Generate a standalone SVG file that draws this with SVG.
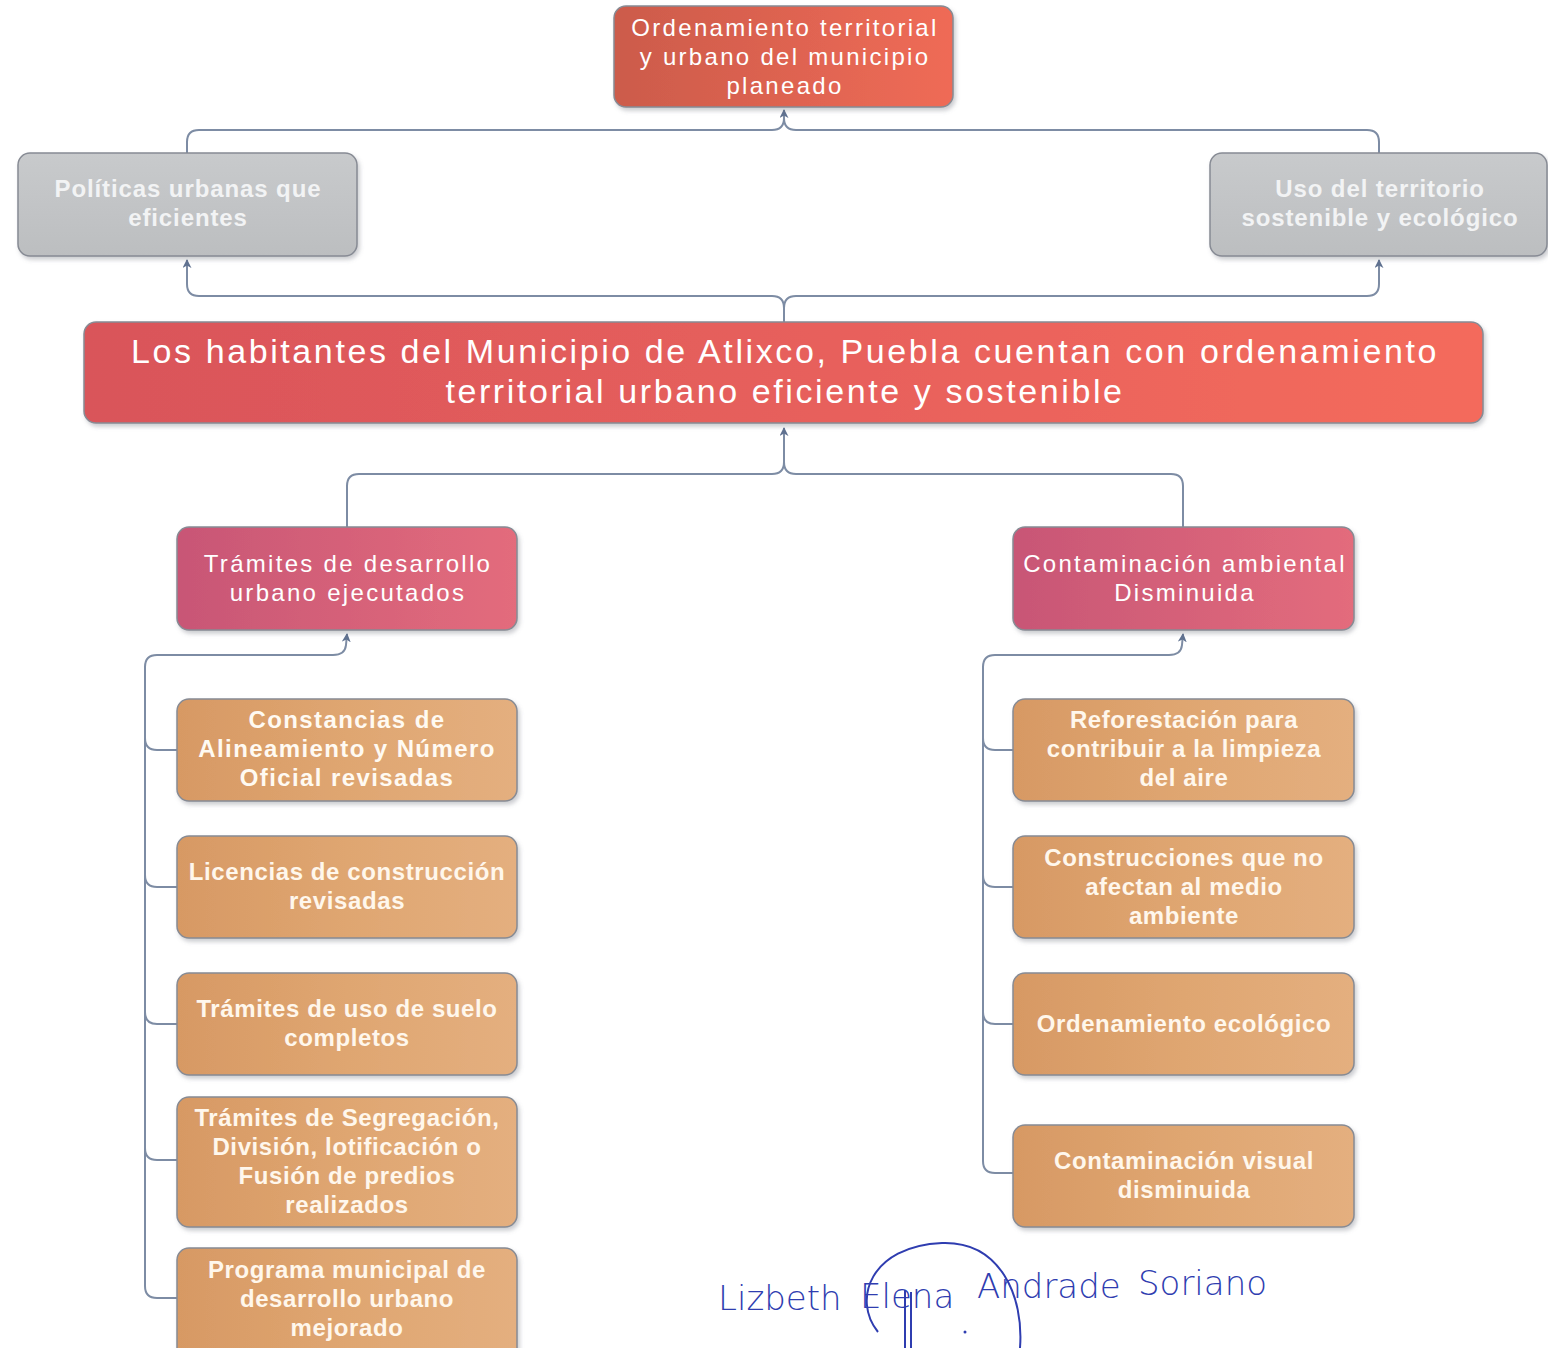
<svg xmlns="http://www.w3.org/2000/svg" width="1548" height="1348" viewBox="0 0 1548 1348">
<defs>
<linearGradient id="gTop" x1="0" y1="0" x2="1" y2="0"><stop offset="0" stop-color="#cc5b4b"/><stop offset="1" stop-color="#ef6b56"/></linearGradient>
<linearGradient id="gMain" x1="0" y1="0" x2="1" y2="0"><stop offset="0" stop-color="#d9545a"/><stop offset="1" stop-color="#f46b5c"/></linearGradient>
<linearGradient id="gPink" x1="0" y1="0" x2="1" y2="0"><stop offset="0" stop-color="#c85676"/><stop offset="1" stop-color="#e36c7c"/></linearGradient>
<linearGradient id="gGrey" x1="0" y1="0" x2="0" y2="1"><stop offset="0" stop-color="#c8cacc"/><stop offset="1" stop-color="#bcbec0"/></linearGradient>
<linearGradient id="gOrange" x1="0" y1="0" x2="1" y2="0"><stop offset="0" stop-color="#d79964"/><stop offset="0.5" stop-color="#dfa671"/><stop offset="1" stop-color="#e4af7f"/></linearGradient>
<filter id="sh" x="-5%" y="-10%" width="110%" height="130%"><feDropShadow dx="2" dy="3" stdDeviation="2" flood-color="#6b6f78" flood-opacity="0.35"/></filter>
<marker id="arr" viewBox="0 0 10 10" refX="9" refY="5" markerWidth="9" markerHeight="9" orient="auto" markerUnits="userSpaceOnUse"><path d="M0,0 L10,5 L0,10 L3,5 Z" fill="#5f7190"/></marker>
<style>
.box{stroke:#878b94;stroke-width:1.5;filter:url(#sh)}
.t{font-family:"Liberation Sans",Arial,sans-serif;fill:#ffffff;text-anchor:middle;font-size:24px;letter-spacing:2.3px}
.tb{font-family:"Liberation Sans",Arial,sans-serif;fill:#fff7ec;text-anchor:middle;font-size:24px;font-weight:bold;letter-spacing:0.6px}
.tc{font-family:"Liberation Sans",Arial,sans-serif;fill:#fffaf2;text-anchor:middle;font-size:24px;font-weight:bold;letter-spacing:1.4px}
.tg{font-family:"Liberation Sans",Arial,sans-serif;fill:#f2f3f4;text-anchor:middle;font-size:24px;font-weight:bold;letter-spacing:0.9px}
.tm{font-family:"Liberation Sans",Arial,sans-serif;fill:#ffffff;text-anchor:middle;font-size:34px;letter-spacing:2.6px}
.c{fill:none;stroke:#7d8ca4;stroke-width:2}
.sig{font-family:"DejaVu Sans","Liberation Sans",sans-serif;fill:#2f3db0;font-size:34px;font-weight:200}
</style>
</defs>
<rect width="1548" height="1348" fill="#ffffff"/>

<g id="connectors">
<path class="c" d="M187,153 V142 Q187,130 199,130 H772 Q784,130 784,118 V110" marker-end="url(#arr)"/>
<path class="c" d="M1379,153 V142 Q1379,130 1367,130 H796 Q784,130 784,118"/>
<path class="c" d="M784,322 V308 Q784,296 772,296 H199 Q187,296 187,284 V260" marker-end="url(#arr)"/>
<path class="c" d="M784,308 Q784,296 796,296 H1367 Q1379,296 1379,284 V260" marker-end="url(#arr)"/>
<path class="c" d="M347,527 V486 Q347,474 359,474 H772 Q784,474 784,462 V428" marker-end="url(#arr)"/>
<path class="c" d="M1183,527 V486 Q1183,474 1171,474 H796 Q784,474 784,462"/>
<path class="c" d="M145,1286 V667 Q145,655 157,655 H333 Q345,655 346,645 L347,634" marker-end="url(#arr)"/>
<path class="c" d="M145,1286 Q145,1298 157,1298 H177"/>
<path class="c" d="M145,738 Q145,750 157,750 H177"/>
<path class="c" d="M145,875 Q145,887 157,887 H177"/>
<path class="c" d="M145,1012 Q145,1024 157,1024 H177"/>
<path class="c" d="M145,1148 Q145,1160 157,1160 H177"/>
<path class="c" d="M983,1161 V667 Q983,655 995,655 H1169 Q1181,655 1182,645 L1183,634" marker-end="url(#arr)"/>
<path class="c" d="M983,1161 Q983,1173 995,1173 H1013"/>
<path class="c" d="M983,738 Q983,750 995,750 H1013"/>
<path class="c" d="M983,875 Q983,887 995,887 H1013"/>
<path class="c" d="M983,1012 Q983,1024 995,1024 H1013"/>
</g>

<g id="n-top">
<rect class="box" x="614" y="6" width="339" height="101" rx="12" fill="url(#gTop)"/>
<text class="t"><tspan x="785" y="36">Ordenamiento territorial</tspan><tspan x="785" y="65">y urbano del municipio</tspan><tspan x="785" y="94">planeado</tspan></text>
</g>

<g id="n-politicas">
<rect class="box" x="18" y="153" width="339" height="103" rx="12" fill="url(#gGrey)"/>
<text class="tg"><tspan x="188" y="197">Políticas urbanas que</tspan><tspan x="188" y="226">eficientes</tspan></text>
</g>

<g id="n-uso">
<rect class="box" x="1210" y="153" width="337" height="103" rx="12" fill="url(#gGrey)"/>
<text class="tg"><tspan x="1380" y="197">Uso del territorio</tspan><tspan x="1380" y="226">sostenible y  ecológico</tspan></text>
</g>

<g id="n-main">
<rect class="box" x="84" y="322" width="1399" height="101" rx="12" fill="url(#gMain)"/>
<text class="tm"><tspan x="785" y="363">Los habitantes del Municipio de Atlixco, Puebla cuentan con ordenamiento</tspan><tspan x="785" y="403">territorial urbano eficiente y sostenible</tspan></text>
</g>

<g id="n-tramites">
<rect class="box" x="177" y="527" width="340" height="103" rx="12" fill="url(#gPink)"/>
<text class="t"><tspan x="348" y="572">Trámites de desarrollo</tspan><tspan x="348" y="601">urbano ejecutados</tspan></text>
</g>

<g id="n-contaminacion">
<rect class="box" x="1013" y="527" width="341" height="103" rx="12" fill="url(#gPink)"/>
<text class="t"><tspan x="1185" y="572">Contaminación ambiental</tspan><tspan x="1185" y="601">Disminuida</tspan></text>
</g>

<g id="n-constancias">
<rect class="box" x="177" y="699" width="340" height="102" rx="12" fill="url(#gOrange)"/>
<text class="tc"><tspan x="347" y="728">Constancias de</tspan><tspan x="347" y="757">Alineamiento y Número</tspan><tspan x="347" y="786">Oficial revisadas</tspan></text>
</g>

<g id="n-licencias">
<rect class="box" x="177" y="836" width="340" height="102" rx="12" fill="url(#gOrange)"/>
<text class="tb"><tspan x="347" y="880">Licencias de construcción</tspan><tspan x="347" y="909">revisadas</tspan></text>
</g>

<g id="n-usosuelo">
<rect class="box" x="177" y="973" width="340" height="102" rx="12" fill="url(#gOrange)"/>
<text class="tb"><tspan x="347" y="1017">Trámites de uso de suelo</tspan><tspan x="347" y="1046">completos</tspan></text>
</g>

<g id="n-segregacion">
<rect class="box" x="177" y="1097" width="340" height="130" rx="12" fill="url(#gOrange)"/>
<text class="tb"><tspan x="347" y="1126">Trámites de Segregación,</tspan><tspan x="347" y="1155">División, lotificación o</tspan><tspan x="347" y="1184">Fusión de predios</tspan><tspan x="347" y="1213">realizados</tspan></text>
</g>

<g id="n-programa">
<rect class="box" x="177" y="1248" width="340" height="115" rx="12" fill="url(#gOrange)"/>
<text class="tb"><tspan x="347" y="1278">Programa municipal de</tspan><tspan x="347" y="1307">desarrollo urbano</tspan><tspan x="347" y="1336">mejorado</tspan></text>
</g>

<g id="n-reforestacion">
<rect class="box" x="1013" y="699" width="341" height="102" rx="12" fill="url(#gOrange)"/>
<text class="tb"><tspan x="1184" y="728">Reforestación para</tspan><tspan x="1184" y="757">contribuir a la limpieza</tspan><tspan x="1184" y="786">del aire</tspan></text>
</g>

<g id="n-construcciones">
<rect class="box" x="1013" y="836" width="341" height="102" rx="12" fill="url(#gOrange)"/>
<text class="tb"><tspan x="1184" y="866">Construcciones que no</tspan><tspan x="1184" y="895">afectan al medio</tspan><tspan x="1184" y="924">ambiente</tspan></text>
</g>

<g id="n-ecologico">
<rect class="box" x="1013" y="973" width="341" height="102" rx="12" fill="url(#gOrange)"/>
<text class="tb"><tspan x="1184" y="1032">Ordenamiento ecológico</tspan></text>
</g>

<g id="n-visual">
<rect class="box" x="1013" y="1125" width="341" height="102" rx="12" fill="url(#gOrange)"/>
<text class="tb"><tspan x="1184" y="1169">Contaminación visual</tspan><tspan x="1184" y="1198">disminuida</tspan></text>
</g>

<g id="signature">
<path d="M878,1332 C852,1300 870,1246 942,1243 C1000,1241 1024,1296 1020,1348" fill="none" stroke="#2f3db0" stroke-width="2"/>
<path d="M905,1290 V1348 M911,1292 V1348" fill="none" stroke="#2f3db0" stroke-width="2"/>
<circle cx="965" cy="1332" r="1.5" fill="#2f3db0"/>
<text class="sig" x="718" y="1310">Lizbeth</text>
<text class="sig" x="860" y="1308">Elena</text>
<text class="sig" x="977" y="1298">Andrade</text>
<text class="sig" x="1138" y="1295">Soriano</text>
</g>
</svg>
